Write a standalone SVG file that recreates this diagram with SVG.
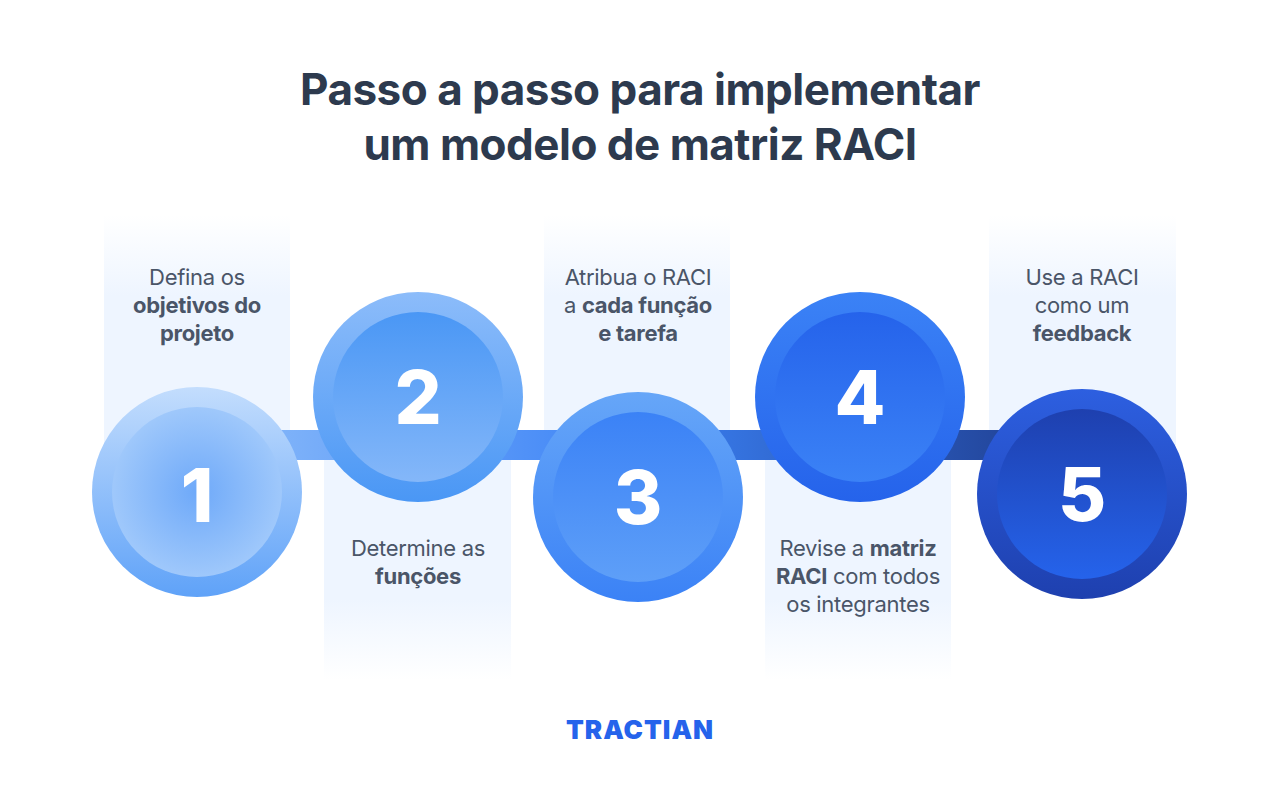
<svg xmlns="http://www.w3.org/2000/svg" width="1280" height="796" viewBox="0 0 1280 796">
<defs>
<linearGradient id="pt" x1="0" y1="0" x2="0" y2="1"><stop offset="0" stop-color="#eef5ff" stop-opacity="0"/><stop offset="0.35" stop-color="#eef5ff"/><stop offset="1" stop-color="#eef5ff"/></linearGradient>
<linearGradient id="pb" x1="0" y1="0" x2="0" y2="1"><stop offset="0" stop-color="#eef5ff"/><stop offset="0.65" stop-color="#eef5ff"/><stop offset="1" stop-color="#eef5ff" stop-opacity="0"/></linearGradient>
<linearGradient id="band" x1="0" y1="0" x2="1" y2="0"><stop offset="0" stop-color="#8dbdfa"/><stop offset="0.5" stop-color="#3b82f6"/><stop offset="1" stop-color="#1e3a8a"/></linearGradient>
<linearGradient id="o1" x1="0" y1="0" x2="0" y2="1"><stop offset="0" stop-color="#c3ddfd"/><stop offset="1" stop-color="#5fa2f8"/></linearGradient>
<radialGradient id="i1" cx="0.5" cy="0.5" r="0.5"><stop offset="0" stop-color="#6ea9f9"/><stop offset="1" stop-color="#9fc8fb"/></radialGradient>
<linearGradient id="o2" x1="0" y1="0" x2="0" y2="1"><stop offset="0" stop-color="#8cbcfa"/><stop offset="1" stop-color="#4a97f5"/></linearGradient>
<linearGradient id="i2" x1="0" y1="0" x2="0" y2="1"><stop offset="0" stop-color="#4a97f5"/><stop offset="1" stop-color="#84b7f9"/></linearGradient>
<linearGradient id="o3" x1="0" y1="0" x2="0" y2="1"><stop offset="0" stop-color="#66a6f8"/><stop offset="1" stop-color="#3b82f6"/></linearGradient>
<linearGradient id="i3" x1="0" y1="0" x2="0" y2="1"><stop offset="0" stop-color="#3b82f6"/><stop offset="1" stop-color="#5e9ff8"/></linearGradient>
<linearGradient id="o4" x1="0" y1="0" x2="0" y2="1"><stop offset="0" stop-color="#3b82f6"/><stop offset="1" stop-color="#2563eb"/></linearGradient>
<linearGradient id="i4" x1="0" y1="0" x2="0" y2="1"><stop offset="0" stop-color="#2563eb"/><stop offset="1" stop-color="#3b82f6"/></linearGradient>
<linearGradient id="o5" x1="0" y1="0" x2="0" y2="1"><stop offset="0" stop-color="#2d5fe0"/><stop offset="1" stop-color="#1e40af"/></linearGradient>
<linearGradient id="i5" x1="0" y1="0" x2="0" y2="1"><stop offset="0" stop-color="#1e40af"/><stop offset="1" stop-color="#2563eb"/></linearGradient>
</defs>
<style>
.t{font-family:Inter,"Liberation Sans",sans-serif;font-size:44px;font-weight:700;fill:#2d3a4e;text-anchor:middle;letter-spacing:-0.5px}
.l{font-family:Inter,"Liberation Sans",sans-serif;font-size:22px;fill:#4a5568;text-anchor:middle;letter-spacing:-0.3px}
.b{font-weight:700}
.n{font-family:Inter,"Liberation Sans",sans-serif;font-size:74px;font-weight:800;fill:#fff;text-anchor:middle}
</style>
<rect width="1280" height="796" fill="#fff"/>
<text class="t" x="640" y="105">Passo a passo para implementar</text>
<text class="t" x="640" y="160">um modelo de matriz RACI</text>
<rect x="104" y="215" width="186" height="230" fill="url(#pt)"/>
<rect x="324" y="450" width="187" height="230" fill="url(#pb)"/>
<rect x="544" y="215" width="186" height="230" fill="url(#pt)"/>
<rect x="765" y="450" width="186" height="230" fill="url(#pb)"/>
<rect x="989" y="215" width="187" height="230" fill="url(#pt)"/>
<g id="connectors">
<rect x="197" y="430" width="885" height="30" fill="url(#band)"/>
</g>
<g id="n1"><circle cx="197" cy="492" r="105" fill="url(#o1)"/><circle cx="197" cy="492" r="85" fill="url(#i1)"/><text class="n" x="197" y="522">1</text></g>
<g id="n2"><circle cx="418" cy="397" r="105" fill="url(#o2)"/><circle cx="418" cy="397" r="85" fill="url(#i2)"/><text class="n" x="418" y="424">2</text></g>
<g id="n3"><circle cx="638" cy="497" r="105" fill="url(#o3)"/><circle cx="638" cy="497" r="85" fill="url(#i3)"/><text class="n" x="638" y="524">3</text></g>
<g id="n4"><circle cx="860" cy="397" r="105" fill="url(#o4)"/><circle cx="860" cy="397" r="85" fill="url(#i4)"/><text class="n" x="860" y="424">4</text></g>
<g id="n5"><circle cx="1082" cy="494" r="105" fill="url(#o5)"/><circle cx="1082" cy="494" r="85" fill="url(#i5)"/><text class="n" x="1082" y="521">5</text></g>
<text class="l" x="197" y="285">Defina os</text>
<text class="l b" x="197" y="313">objetivos do</text>
<text class="l b" x="197" y="341">projeto</text>
<text class="l" x="418" y="556">Determine as</text>
<text class="l b" x="418" y="584">funções</text>
<text class="l" x="638" y="285">Atribua o RACI</text>
<text class="l" x="638" y="313">a <tspan class="b">cada função</tspan></text>
<text class="l b" x="638" y="341">e tarefa</text>
<text class="l" x="858" y="556">Revise a <tspan class="b">matriz</tspan></text>
<text class="l" x="858" y="584"><tspan class="b">RACI</tspan> com todos</text>
<text class="l" x="858" y="612">os integrantes</text>
<text class="l" x="1082" y="285">Use a RACI</text>
<text class="l" x="1082" y="313">como um</text>
<text class="l b" x="1082" y="341">feedback</text>
<text x="640" y="739" font-family="Inter,'Liberation Sans',sans-serif" font-size="26" font-weight="900" fill="#2563eb" text-anchor="middle" letter-spacing="1">TRACTIAN</text>
</svg>
